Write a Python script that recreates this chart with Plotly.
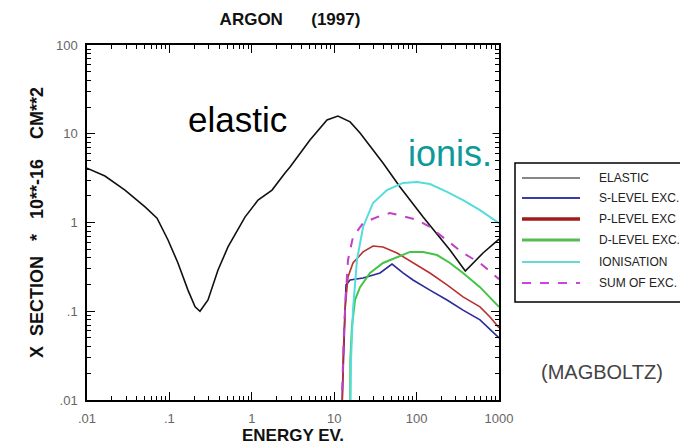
import plotly.graph_objects as go

# ---------------- data ----------------
series_names = ["ELASTIC", "S-LEVEL EXC.", "P-LEVEL EXC", "D-LEVEL EXC.", "IONISATION", "SUM OF EXC."]

elastic_e = [0.01, 0.0165, 0.0289, 0.0506, 0.0708, 0.0962, 0.127, 0.168, 0.205, 0.235, 0.294,
             0.389, 0.514, 0.826, 1.19, 1.76, 2.53, 2.91, 5.08, 8.18, 11.1, 15.6, 20.6, 39.1,
             62.9, 120, 254, 390, 640, 1000]
elastic_xs = [4.1, 3.34, 2.32, 1.50, 1.12, 0.635, 0.35, 0.173, 0.112, 0.10, 0.134,
              0.292, 0.53, 1.15, 1.79, 2.32, 3.61, 4.22, 8.5, 14.3, 15.8, 13.6, 10.2, 4.68,
              2.51, 1.15, 0.49, 0.284, 0.453, 0.65]

slevel_e = [12.2, 13.2, 13.9, 15.6, 22.4, 36.0, 50.3, 68.4, 90.4, 145, 234, 366, 588, 1000]
slevel_xs = [0.005, 0.0615, 0.198, 0.225, 0.237, 0.27, 0.34, 0.27, 0.225, 0.173, 0.134, 0.103, 0.08, 0.05]

plevel_e = [12.4, 12.8, 13.5, 14.7, 16.9, 19.4, 22.4, 29.6, 39.1, 57.8, 90.4, 145, 234, 366, 588, 778, 1000]
plevel_xs = [0.005, 0.028, 0.103, 0.243, 0.35, 0.408, 0.466, 0.543, 0.53, 0.453, 0.35, 0.27, 0.198,
             0.145, 0.112, 0.086, 0.065]

dlevel_e = [15.6, 15.7, 16.4, 17.9, 20.6, 27.2, 39.1, 57.8, 83.2, 120, 177, 254, 366, 588, 1000]
dlevel_xs = [0.005, 0.028, 0.0666, 0.134, 0.187, 0.27, 0.35, 0.408, 0.466, 0.466, 0.43, 0.35, 0.27, 0.187, 0.112]

ionis_e = [15.6, 16.0, 16.9, 18.9, 22.4, 29.6, 43.7, 68.4, 101, 145, 234, 366, 588, 1000]
ionis_xs = [0.005, 0.028, 0.103, 0.378, 0.89, 1.66, 2.32, 2.79, 2.86, 2.71, 2.21, 1.79, 1.38, 0.98]

sumexc_e = [12.1, 13.2, 13.9, 14.7, 16.9, 22.4, 33.1, 47.5, 68.4, 101, 145, 234, 366, 588, 1000]
sumexc_xs = [0.005, 0.0666, 0.161, 0.378, 0.687, 0.986, 1.15, 1.28, 1.18, 1.07, 0.89, 0.635, 0.453, 0.35, 0.23]

x_tickvals = [0.01, 0.1, 1, 10, 100, 1000]
x_ticktext = [".01", ".1", "1", "10", "100", "1000"]
y_tickvals = [0.01, 0.1, 1, 10, 100]
y_ticktext = [".01", ".1", "1", "10", "100"]

# ---------------- styles ----------------
FONT = "Liberation Sans, Arial, Helvetica, sans-serif"
NB = "\u00a0"
PAGE_OFFSET = 8  # default body margin of the html page

series = [
    (elastic_e, elastic_xs, dict(color="#111111", width=1.6), dict(color="#111111", width=1.2)),
    (slevel_e, slevel_xs, dict(color="#2a2a9a", width=1.6), dict(color="#3a3aaa", width=2)),
    (plevel_e, plevel_xs, dict(color="#bb3030", width=1.6), dict(color="#a01c1c", width=3.5)),
    (dlevel_e, dlevel_xs, dict(color="#44c444", width=2), dict(color="#55bb55", width=3)),
    (ionis_e, ionis_xs, dict(color="#55dcdc", width=2), dict(color="#66d8d8", width=2)),
    (sumexc_e, sumexc_xs, dict(color="#c040c8", width=2, dash="dash"), dict(color="#cc44dd", width=2, dash="dash")),
]

fig = go.Figure()
for name, (xe, ys, line, _) in zip(series_names, series):
    fig.add_trace(go.Scatter(x=xe, y=ys, mode="lines", name=name, line=line, showlegend=False,
                             hoverinfo="x+y+name"))

minor_x = [m * 10 ** d for d in range(-2, 3) for m in range(2, 10)]
minor_y = [m * 10 ** d for d in range(-2, 2) for m in range(2, 10)]

axis_common = dict(
    type="log", showgrid=False, zeroline=False, showline=True, linecolor="black", linewidth=1.5,
    mirror="ticks", ticks="inside", ticklen=8, tickwidth=1.3, tickcolor="black", automargin=False,
    tickmode="array", tickfont=dict(family=FONT, size=13, color="#666666"),
)

fig.update_xaxes(
    **axis_common, range=[-2, 3], tickvals=x_tickvals, ticktext=x_ticktext, ticklabelstandoff=6,
    minor=dict(tickmode="array", tickvals=minor_x, ticks="inside", ticklen=4, tickcolor="black", tickwidth=1),
    title=dict(text="ENERGY EV." + NB * 4, font=dict(family=FONT, size=17, color="#111111", weight="bold"),
               standoff=3),
)
fig.update_yaxes(
    **axis_common, range=[-2, 2], tickvals=y_tickvals, ticktext=y_ticktext, ticklabelstandoff=5,
    minor=dict(tickmode="array", tickvals=minor_y, ticks="inside", ticklen=4, tickcolor="black", tickwidth=1),
    title=dict(text="X" + NB * 2 + "SECTION" + NB * 3 + "*" + NB * 3 + "10**-16" + NB * 4 + "CM**2",
               font=dict(family=FONT, size=18, color="#111111", weight="bold"), standoff=8),
)

# ---------------- legend box (drawn by hand to match the original) ----------------
px0, pw = 87, 412     # plot area left / width in window px
py0, ph = 400, 355    # plot area bottom / height in window px


def xp(px):
    return (px - px0) / pw


def yp(py):
    return (py0 - py) / ph


shapes = [dict(type="rect", xref="paper", yref="paper", x0=xp(515), x1=xp(694), y0=yp(302), y1=yp(163),
               line=dict(color="black", width=1.5), fillcolor="white", layer="above")]
annotations = []
row_y = [178, 198, 219, 240, 262, 283]
for name, (_, _, _, lline), ry in zip(series_names, series, row_y):
    shapes.append(dict(type="line", xref="paper", yref="paper", x0=xp(522), x1=xp(580), y0=yp(ry), y1=yp(ry),
                       line=lline, layer="above"))
    annotations.append(dict(text=name, xref="paper", yref="paper", x=xp(597), y=yp(ry), xanchor="left",
                            yanchor="middle", showarrow=False,
                            font=dict(family=FONT, size=12, color="#222222")))

annotations += [
    dict(text="elastic", xref="paper", yref="paper", x=xp(237), y=yp(119), showarrow=False,
         xanchor="center", yanchor="middle", font=dict(family=FONT, size=35, color="black")),
    dict(text="ionis.", xref="paper", yref="paper", x=xp(450), y=yp(153), showarrow=False,
         xanchor="center", yanchor="middle",
         font=dict(family=FONT, size=36, color="#0e9a9a"), bgcolor="white", borderpad=0),
    dict(text="(MAGBOLTZ)", xref="paper", yref="paper", x=xp(602), y=yp(372), showarrow=False,
         xanchor="center", yanchor="middle", font=dict(family=FONT, size=20, color="#444444")),
]

W, H = 688 - PAGE_OFFSET, 446 - PAGE_OFFSET
fig.update_layout(
    width=W, height=H, autosize=False,
    margin=dict(l=87 - PAGE_OFFSET, r=W - (499 - PAGE_OFFSET), t=45 - PAGE_OFFSET, b=H - (400 - PAGE_OFFSET)),
    plot_bgcolor="white", paper_bgcolor="white",
    title=dict(text="ARGON" + NB * 6 + "(1997)", x=(290 - PAGE_OFFSET) / W, xanchor="center",
               y=1 - (19 - PAGE_OFFSET) / H, yanchor="middle", xref="container", yref="container",
               font=dict(family=FONT, size=17, color="#111111", weight="bold")),
    shapes=shapes, annotations=annotations, showlegend=False,
)

fig.write_html("out.html")
